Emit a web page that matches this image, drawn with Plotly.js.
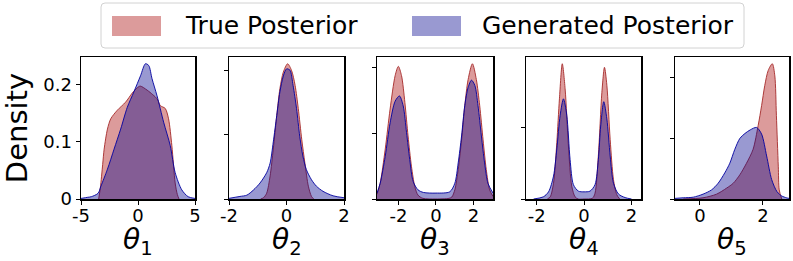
<!DOCTYPE html>
<html>
<head>
<meta charset="utf-8">
<script src="https://cdn.plot.ly/plotly-3.0.1.min.js"></script>
<style>html,body{margin:0;padding:0;background:#fff;}#chart{width:793px;height:261px;}</style>
</head>
<body>
<div id="chart"></div>
<script>
// ---- data ----
const seriesNames = ['True Posterior', 'Generated Posterior'];
const paramLabels = ['<i>θ</i><sub>1</sub>', '<i>θ</i><sub>2</sub>', '<i>θ</i><sub>3</sub>', '<i>θ</i><sub>4</sub>', '<i>θ</i><sub>5</sub>'];

const trueX1 = [-3.45,-3.3,-3.1,-2.97,-2.68,-2.39,-1.81,-1.09,-0.5,-0.07,0.2,0.8,1.3,1.67,1.96,2.39,2.68,2.97,3.26,3.45,3.6];
const trueY1 = [0,0.02,0.06,0.087,0.122,0.14,0.155,0.169,0.185,0.194,0.197,0.19,0.182,0.175,0.163,0.158,0.14,0.093,0.028,0.008,0];
const genX1  = [-5,-4.4,-4.1,-3.5,-3.26,-2.68,-2.1,-1.52,-0.94,-0.36,0.22,0.65,0.94,1.23,1.67,2.25,2.83,3.26,3.84,4.4,5];
const genY1  = [0.001,0.003,0.004,0.01,0.022,0.052,0.087,0.122,0.16,0.187,0.215,0.236,0.233,0.21,0.18,0.134,0.093,0.046,0.016,0.004,0.001];

const trueX2 = [-0.9,-0.8,-0.69,-0.57,-0.46,-0.34,-0.23,-0.11,0.04,0.18,0.3,0.41,0.53,0.64,0.76,0.87,0.95];
const trueY2 = [0,0.002,0.009,0.036,0.078,0.130,0.172,0.198,0.211,0.200,0.177,0.141,0.093,0.056,0.020,0.004,0];
const genX2  = [-2,-1.62,-1.38,-1.15,-0.92,-0.69,-0.57,-0.46,-0.34,-0.23,-0.11,0,0.12,0.23,0.35,0.46,0.57,0.69,0.87,1.04,1.27,1.62,2];
const genY2  = [0.001,0.004,0.006,0.014,0.025,0.041,0.056,0.089,0.130,0.167,0.192,0.203,0.201,0.177,0.141,0.098,0.067,0.046,0.030,0.020,0.012,0.005,0.002];

const trueX3 = [-3.15,-2.98,-2.71,-2.45,-2.18,-2.01,-1.84,-1.66,-1.49,-1.31,-1.13,-0.96,-0.7,0,0.7,0.85,1.01,1.19,1.37,1.54,1.72,1.95,2.16,2.34,2.52,2.69,2.87,3.05];
const trueY3 = [0.007,0.024,0.076,0.137,0.188,0.202,0.188,0.147,0.096,0.050,0.019,0.006,0.001,0,0.001,0.003,0.014,0.045,0.090,0.142,0.182,0.206,0.182,0.142,0.090,0.045,0.014,0.004];
const genX3  = [-3.15,-2.98,-2.71,-2.45,-2.18,-1.95,-1.75,-1.57,-1.4,-1.22,-0.96,-0.67,0,0.74,1.01,1.19,1.37,1.54,1.72,1.9,2.08,2.25,2.43,2.6,2.78,3.05];
const genY3  = [0.009,0.024,0.065,0.116,0.149,0.157,0.142,0.101,0.060,0.027,0.014,0.010,0.009,0.011,0.024,0.055,0.096,0.142,0.170,0.181,0.173,0.142,0.096,0.055,0.024,0.009];

const trueX4 = [-1.55,-1.43,-1.29,-1.15,-1.04,-0.92,-0.8,-0.66,-0.52,-0.38,-0.25,0,0.35,0.46,0.6,0.75,0.86,0.96,1.1,1.24,1.38,1.5];
const trueY4 = [0,0.003,0.022,0.079,0.140,0.189,0.154,0.074,0.018,0.003,0,0,0.001,0.008,0.060,0.149,0.184,0.159,0.083,0.027,0.006,0];
const genX4  = [-2.13,-1.72,-1.5,-1.29,-1.15,-1.01,-0.87,-0.73,-0.59,-0.45,-0.24,0,0.25,0.46,0.6,0.7,0.83,0.96,1.1,1.24,1.45,1.73,2.0];
const genY4  = [0,0.003,0.010,0.032,0.070,0.117,0.140,0.117,0.055,0.020,0.011,0.010,0.011,0.020,0.055,0.102,0.136,0.112,0.060,0.022,0.007,0.002,0];

const trueX5 = [-0.53,0.1,0.53,0.85,1.06,1.27,1.48,1.69,1.85,1.96,2.06,2.17,2.3,2.38,2.43,2.49,2.52,2.6];
const trueY5 = [0,0.002,0.008,0.018,0.026,0.040,0.059,0.082,0.121,0.154,0.187,0.212,0.223,0.203,0.138,0.054,0.015,0];
const genX5  = [-0.79,-0.53,-0.21,0.1,0.37,0.58,0.79,0.95,1.11,1.27,1.43,1.6,1.8,1.96,2.12,2.28,2.45,2.6,2.75,2.83];
const genY5  = [0.001,0.002,0.003,0.008,0.015,0.026,0.043,0.059,0.082,0.100,0.108,0.114,0.118,0.107,0.071,0.032,0.012,0.005,0.002,0.001];

const xTickVals = [[-5,0,5],[-2,0,2],[-2,0,2],[-2,0,2],[0,2]];
const xTickText = [['-5','0','5'],['-2','0','2'],['-2','0','2'],['-2','0','2'],['0','2']];
const yTickVals = [0, 0.1, 0.2];
const yTickText = ['0', '0.1', '0.2'];

// ---- build ----
const trueXs = [trueX1,trueX2,trueX3,trueX4,trueX5];
const trueYs = [trueY1,trueY2,trueY3,trueY4,trueY5];
const genXs  = [genX1,genX2,genX3,genX4,genX5];
const genYs  = [genY1,genY2,genY3,genY4,genY5];

const xRanges = [[-5,5],[-2,2],[-3.15,3.05],[-2.45,2.4],[-0.79,2.83]];
const W = 793, H = 261;
const boxes = [[81,195],[229,344],[377,493],[526,641],[675,789]];
const yTopPx = 57, yBotPx = 199;
const FONT = 'DejaVu Sans, sans-serif';
const trueFill = 'rgba(178,34,34,0.45)', trueLine = 'rgba(165,42,42,0.9)';
const genFill = 'rgba(0,0,139,0.40)', genLine = 'rgba(0,0,160,0.9)';
const px = v => v / W, py = v => 1 - v / H;

const traces = [];
const layout = {
  width: W, height: H,
  margin: {l:0, r:0, t:0, b:0},
  paper_bgcolor: '#fff', plot_bgcolor: '#fff',
  showlegend: false,
  font: {family: FONT, color: '#000'},
  shapes: [], annotations: []
};

for (let i = 0; i < 5; i++) {
  const sfx = i === 0 ? '' : String(i + 1);
  const xa = 'x' + sfx, ya = 'y' + sfx;
  traces.push({x: trueXs[i], y: trueYs[i], xaxis: xa, yaxis: ya, type: 'scatter', mode: 'lines',
    line: {color: trueLine, width: 1, shape: 'spline', smoothing: 0.8}, fill: 'tozeroy', fillcolor: trueFill,
    name: seriesNames[0], hoverinfo: 'skip'});
  traces.push({x: genXs[i], y: genYs[i], xaxis: xa, yaxis: ya, type: 'scatter', mode: 'lines',
    line: {color: genLine, width: 1, shape: 'spline', smoothing: 0.8}, fill: 'tozeroy', fillcolor: genFill,
    name: seriesNames[1], hoverinfo: 'skip'});
  const ymax = Math.max(...trueYs[i], ...genYs[i]) * 1.05;
  const common = {showline: true, mirror: true, linecolor: '#000', linewidth: 1.5, ticks: 'outside',
    ticklen: 4, tickwidth: 1, tickcolor: '#000', showgrid: false, zeroline: false,
    tickfont: {family: FONT, size: 18, color: '#000'}};
  layout['xaxis' + sfx] = Object.assign({}, common, {
    domain: [px(boxes[i][0]), px(boxes[i][1])], anchor: ya, range: xRanges[i],
    tickmode: 'array', tickvals: xTickVals[i], ticktext: xTickText[i], ticklabelstandoff: -4
  });
  layout['yaxis' + sfx] = Object.assign({}, common, {
    domain: [py(yBotPx), py(yTopPx)], anchor: xa, range: [0, ymax],
    tickmode: 'array', tickvals: yTickVals, ticktext: yTickText, showticklabels: i === 0,
    title: i === 0 ? {text: 'Density', font: {family: FONT, size: 29, color: '#000'}, standoff: 8} : {text: ''}
  });
  // parameter label under each panel
  layout.annotations.push({xref: 'paper', yref: 'paper', x: px((boxes[i][0] + boxes[i][1]) / 2), y: 0,
    xanchor: 'center', yanchor: 'bottom', borderpad: 0, text: paramLabels[i], showarrow: false,
    font: {family: FONT, size: 28, color: '#000'}});
}

// legend box (matplotlib-style, rounded corners)
const L = 101, R = 744, T = 3, B = 48, r = 4;
layout.shapes.push({type: 'path', xref: 'paper', yref: 'paper',
  path: `M ${px(L+r)},${py(T)} L ${px(R-r)},${py(T)} Q ${px(R)},${py(T)} ${px(R)},${py(T+r)} L ${px(R)},${py(B-r)} Q ${px(R)},${py(B)} ${px(R-r)},${py(B)} L ${px(L+r)},${py(B)} Q ${px(L)},${py(B)} ${px(L)},${py(B-r)} L ${px(L)},${py(T+r)} Q ${px(L)},${py(T)} ${px(L+r)},${py(T)} Z`,
  line: {color: 'rgba(210,210,210,1)', width: 1}, fillcolor: 'rgba(255,255,255,0.8)'});
const sw = [[112,161,trueFill,183],[412,461,genFill,480]];
sw.forEach((s, k) => {
  layout.shapes.push({type: 'rect', xref: 'paper', yref: 'paper', x0: px(s[0]), x1: px(s[1]),
    y0: py(36), y1: py(16), line: {width: 0}, fillcolor: s[2]});
  layout.annotations.push({xref: 'paper', yref: 'paper', x: px(s[3]), y: py(26), xanchor: 'left', yanchor: 'middle',
    text: seriesNames[k], showarrow: false, font: {family: FONT, size: 25, color: '#000'}});
});

Plotly.newPlot('chart', traces, layout, {staticPlot: true, displayModeBar: false});
</script>
</body>
</html>
